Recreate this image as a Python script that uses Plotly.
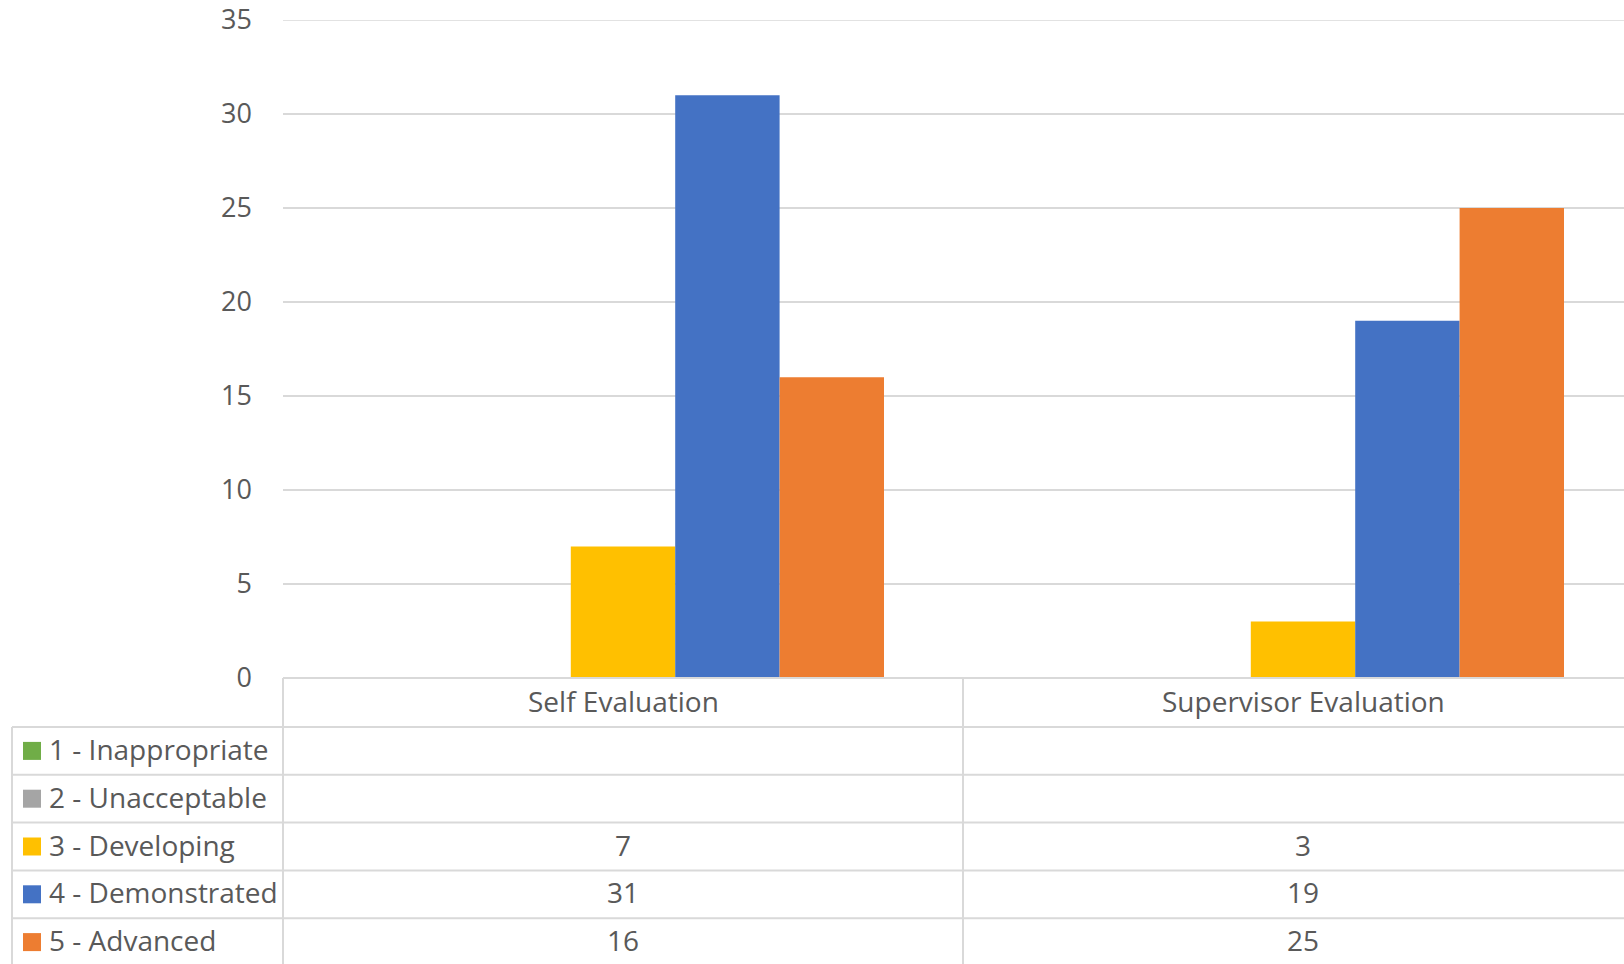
import plotly.graph_objects as go

# ---- data ----
categories = ["Self Evaluation", "Supervisor Evaluation"]
series_names = ["1 - Inappropriate", "2 - Unacceptable", "3 - Developing",
                "4 - Demonstrated", "5 - Advanced"]
inappropriate = [None, None]
unacceptable = [None, None]
developing = [7, 3]
demonstrated = [31, 19]
advanced = [16, 25]
series_values = [inappropriate, unacceptable, developing, demonstrated, advanced]
series_colors = ["#70AD47", "#A5A5A5", "#FFC000", "#4472C4", "#ED7D31"]
y_ticks = [0, 5, 10, 15, 20, 25, 30, 35]

# ---- layout constants (pixels) ----
W, H = 1624, 964
L, R, T, B = 283, 0, 20, 286
PW = W - L - R
PH = H - T - B
AXIS_Y = T + PH  # 678
TEXT = "#595959"
GRID = "#D9D9D9"
FONT = "Open Sans"
FS = 28
TICK_FS = 27


def px_x(p):
    return (p - L) / PW


def px_y(p):
    return (AXIS_Y - p) / PH


fig = go.Figure()
for name, vals, col in zip(series_names, series_values, series_colors):
    fig.add_trace(go.Bar(x=categories, y=vals, name=name, marker_color=col,
                         marker_line_width=0, showlegend=False))

# table geometry
header_bottom = 727
row_h = 47.8
row_tops = [header_bottom + i * row_h for i in range(len(series_names))]
shapes = []
annotations = []

line = dict(color=GRID, width=2)
# top gridline (at range edge)
shapes.append(dict(type="line", xref="paper", yref="y", x0=0, x1=1,
                   y0=y_ticks[-1], y1=y_ticks[-1], line=dict(color=GRID, width=1.5),
                   layer="below"))
# top border (axis line) over category columns
shapes.append(dict(type="line", xref="paper", yref="paper", x0=0, x1=1,
                   y0=px_y(AXIS_Y), y1=px_y(AXIS_Y), line=line, layer="above"))
# row borders spanning legend column too
for rt in row_tops:
    shapes.append(dict(type="line", xref="paper", yref="paper", x0=px_x(12), x1=1,
                       y0=px_y(rt), y1=px_y(rt), line=line))
# vertical borders
shapes.append(dict(type="line", xref="paper", yref="paper", x0=px_x(12), x1=px_x(12),
                   y0=px_y(header_bottom), y1=px_y(H + 5), line=line))
shapes.append(dict(type="line", xref="paper", yref="paper", x0=0, x1=0,
                   y0=px_y(AXIS_Y), y1=px_y(H + 5), line=line))
shapes.append(dict(type="line", xref="x", yref="paper", x0=0.5, x1=0.5,
                   y0=px_y(AXIS_Y), y1=px_y(H + 5), line=line))

YS = 2
# header row: category names
for c in categories:
    annotations.append(dict(x=c, xref="x", y=px_y((AXIS_Y + header_bottom) / 2),
                            yref="paper", text=c, showarrow=False, yshift=YS,
                            xanchor="center", yanchor="middle",
                            font=dict(family=FONT, size=FS, color=TEXT)))

# series rows
for i, (name, vals, col) in enumerate(zip(series_names, series_values, series_colors)):
    cy = row_tops[i] + row_h / 2
    shapes.append(dict(type="rect", xref="paper", yref="paper",
                       x0=px_x(23), x1=px_x(41), y0=px_y(cy - 9), y1=px_y(cy + 9),
                       fillcolor=col, line=dict(width=0)))
    annotations.append(dict(x=px_x(47), xref="paper", y=px_y(cy), yref="paper",
                            text=name, showarrow=False, xanchor="left", yanchor="middle",
                            yshift=YS, font=dict(family=FONT, size=FS, color=TEXT)))
    for c, v in zip(categories, vals):
        if v is None:
            continue
        annotations.append(dict(x=c, xref="x", y=px_y(cy), yref="paper",
                                text=str(v), showarrow=False, yshift=YS,
                                xanchor="center", yanchor="middle",
                                font=dict(family=FONT, size=FS, color=TEXT)))

cat_px = 680
fig.update_layout(
    width=W, height=H,
    margin=dict(l=L, r=R, t=T, b=B, pad=0),
    paper_bgcolor="white", plot_bgcolor="white",
    barmode="group", bargap=158 / cat_px, bargroupgap=0,
    font=dict(family=FONT, size=FS, color=TEXT),
    xaxis=dict(range=[-0.5, -0.5 + PW / cat_px], showticklabels=False,
               showgrid=False, zeroline=False, showline=False, fixedrange=True),
    yaxis=dict(range=[0, 35], tickvals=y_ticks, showgrid=True, gridcolor=GRID,
               gridwidth=1.5, zeroline=False, showline=False,
               ticks="", ticklabelstandoff=30,
               tickfont=dict(family=FONT, size=TICK_FS, color=TEXT)),
    shapes=shapes, annotations=annotations,
)

fig.write_html("out.html")
